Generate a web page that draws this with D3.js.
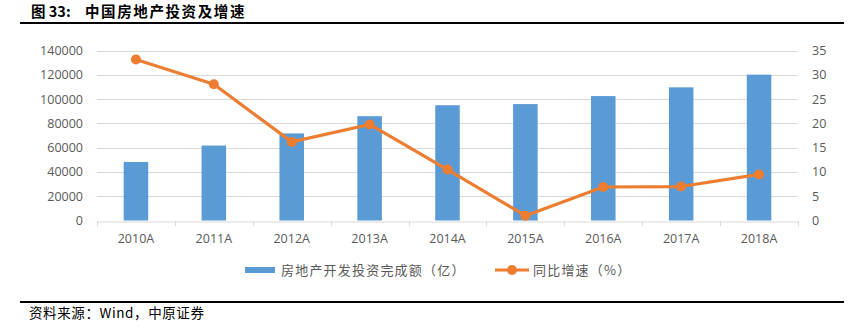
<!DOCTYPE html>
<html><head><meta charset="utf-8">
<script src="https://cdn.jsdelivr.net/npm/d3@7"></script>
<style>body{margin:0;background:#fff}svg{display:block}</style>
</head><body>
<svg id="c" width="849" height="329"></svg>
<script>
const categories = ["2010A","2011A","2012A","2013A","2014A","2015A","2016A","2017A","2018A"];
const investment = [48259,61796,71804,86013,95036,95979,102581,109799,120264];
const growth = [33.2,28.1,16.2,19.8,10.5,1.0,6.9,7.0,9.5];
const leftTicks = [0,20000,40000,60000,80000,100000,120000,140000];
const rightTicks = [0,5,10,15,20,25,30,35];
const seriesNames = ["房地产开发投资完成额（亿）","同比增速（%）"];
const titleLabel = "图 33:";
const titleText = "中国房地产投资及增速";
const sourceText = "资料来源：Wind，中原证券";

const svg = d3.select("#c");
const L = 97, R = 798, T = 50.7, B = 220.5;
const x = d3.scaleBand().domain(categories).range([L, R]).paddingInner(0.685).paddingOuter(0.3425);
const xb = d3.scaleBand().domain(categories).range([L, R]);
const yL = d3.scaleLinear().domain([0,140000]).range([B, T]);
const yR = d3.scaleLinear().domain([0,35]).range([B, T]);
const gray = "#595959", cjk = "'Noto Sans CJK SC', sans-serif", num = "'Open Sans', sans-serif";

// title
svg.append("text").attr("x",31).attr("y",17).attr("font-family",cjk).attr("font-weight","bold")
  .attr("font-size",14.5).attr("fill","#000").text(titleLabel);
svg.append("text").attr("x",85).attr("y",17).attr("font-family",cjk).attr("font-weight","bold")
  .attr("font-size",14.5).attr("letter-spacing",1.6).attr("fill","#000").text(titleText);
svg.append("line").attr("x1",20).attr("x2",844).attr("y1",23).attr("y2",23).attr("stroke","#000").attr("stroke-width",2);
svg.append("line").attr("x1",20).attr("x2",844).attr("y1",302).attr("y2",302).attr("stroke","#000").attr("stroke-width",2);
svg.append("text").attr("x",29).attr("y",318).attr("font-family",cjk).attr("font-size",13.5)
  .attr("letter-spacing",0.6).attr("fill","#000").text(sourceText);

// gridlines
svg.append("g").selectAll("line").data(leftTicks.slice(1)).join("line")
  .attr("x1",L).attr("x2",R).attr("y1",d=>Math.round(yL(d))+0.5).attr("y2",d=>Math.round(yL(d))+0.5)
  .attr("stroke","#d9d9d9").attr("stroke-width",1);

// left axis
const gl = svg.append("g").attr("transform",`translate(${L-14},0)`)
  .call(d3.axisLeft(yL).tickValues(leftTicks).tickSize(0).tickPadding(0).tickFormat(d3.format("d")));
gl.select(".domain").remove();
gl.selectAll("text").attr("font-family",num).attr("font-size",12.5).attr("fill",gray);

// right axis
const gr = svg.append("g").attr("transform",`translate(${R+14},0)`)
  .call(d3.axisRight(yR).tickValues(rightTicks).tickSize(0).tickPadding(0));
gr.select(".domain").remove();
gr.selectAll("text").attr("font-family",num).attr("font-size",12.5).attr("fill",gray);

// bars
svg.append("g").selectAll("rect").data(investment).join("rect")
  .attr("x",(d,i)=>x(categories[i])).attr("width",x.bandwidth())
  .attr("y",d=>yL(d)).attr("height",d=>B-yL(d)).attr("fill","#5B9BD5");

// x axis
const gx = svg.append("g").attr("transform",`translate(0,${Math.round(B)+0.5})`)
  .call(d3.axisBottom(xb).tickSize(0).tickPadding(13));
gx.select(".domain").attr("stroke","#d9d9d9");
gx.selectAll("text").attr("font-family",num).attr("font-size",12.5).attr("fill",gray);
svg.append("g").selectAll("line").data(categories.concat(["end"])).join("line")
  .attr("x1",(d,i)=>Math.round(L+i*xb.step())+0.5).attr("x2",(d,i)=>Math.round(L+i*xb.step())+0.5)
  .attr("y1",Math.round(B)).attr("y2",Math.round(B)+5).attr("stroke","#d9d9d9");

// line
const cx = i => xb(categories[i]) + xb.bandwidth()/2;
svg.append("path").datum(growth)
  .attr("d", d3.line().x((d,i)=>cx(i)).y(d=>yR(d)))
  .attr("fill","none").attr("stroke","#ED7D31").attr("stroke-width",3.2).attr("stroke-linejoin","round");
svg.append("g").selectAll("circle").data(growth).join("circle")
  .attr("cx",(d,i)=>cx(i)).attr("cy",d=>yR(d)).attr("r",5).attr("fill","#ED7D31");

// legend
svg.append("rect").attr("x",245).attr("y",267).attr("width",30).attr("height",6).attr("fill","#5B9BD5");
svg.append("text").attr("x",281).attr("y",275).attr("font-family",cjk).attr("font-size",13)
  .attr("letter-spacing",1.2).attr("fill",gray).text(seriesNames[0]);
svg.append("line").attr("x1",495).attr("x2",529).attr("y1",270).attr("y2",270).attr("stroke","#ED7D31").attr("stroke-width",3.2);
svg.append("circle").attr("cx",512).attr("cy",270).attr("r",5).attr("fill","#ED7D31");
svg.append("text").attr("x",533).attr("y",275).attr("font-family",cjk).attr("font-size",13)
  .attr("letter-spacing",1.2).attr("fill",gray).text(seriesNames[1]);
</script>
</body></html>
